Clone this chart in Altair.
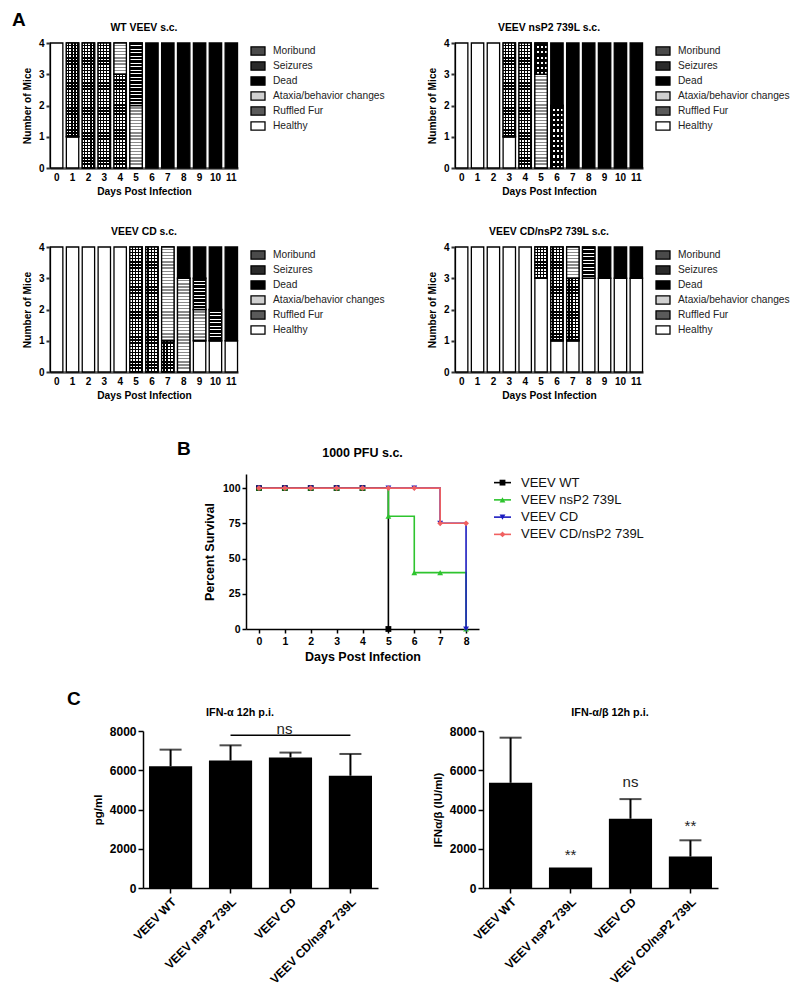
import altair as alt
import pandas as pd

FONT = "Liberation Sans"

# ---------------- Panel A data ----------------
days = [0, 1, 2, 3, 4, 5, 6, 7, 8, 9, 10, 11]
legend_order = ["Moribund", "Seizures", "Dead", "Ataxia/behavior changes", "Ruffled Fur", "Healthy"]
stack_order = ["Healthy", "Ruffled Fur", "Ataxia/behavior changes", "Seizures", "Moribund", "Dead"]
status_colors = ["#4a4a4a", "#2a2a2a", "#000000", "#d0d0d0", "#5a5a5a", "#ffffff"]

wt_healthy = [4, 1, 0, 0, 0, 0, 0, 0, 0, 0, 0, 0]
wt_ruffled = [0, 3, 4, 4, 3, 0, 0, 0, 0, 0, 0, 0]
wt_ataxia = [0, 0, 0, 0, 1, 2, 0, 0, 0, 0, 0, 0]
wt_seizures = [0, 0, 0, 0, 0, 0, 0, 0, 0, 0, 0, 0]
wt_moribund = [0, 0, 0, 0, 0, 2, 0, 0, 0, 0, 0, 0]
wt_dead = [0, 0, 0, 0, 0, 0, 4, 4, 4, 4, 4, 4]

ns_healthy = [4, 4, 4, 1, 0, 0, 0, 0, 0, 0, 0, 0]
ns_ruffled = [0, 0, 0, 3, 4, 0, 0, 0, 0, 0, 0, 0]
ns_ataxia = [0, 0, 0, 0, 0, 3, 0, 0, 0, 0, 0, 0]
ns_seizures = [0, 0, 0, 0, 0, 1, 2, 0, 0, 0, 0, 0]
ns_moribund = [0, 0, 0, 0, 0, 0, 0, 0, 0, 0, 0, 0]
ns_dead = [0, 0, 0, 0, 0, 0, 2, 4, 4, 4, 4, 4]

cd_healthy = [4, 4, 4, 4, 4, 0, 0, 0, 0, 1, 1, 1]
cd_ruffled = [0, 0, 0, 0, 0, 4, 4, 1, 0, 0, 0, 0]
cd_ataxia = [0, 0, 0, 0, 0, 0, 0, 3, 3, 1, 0, 0]
cd_seizures = [0, 0, 0, 0, 0, 0, 0, 0, 0, 0, 0, 0]
cd_moribund = [0, 0, 0, 0, 0, 0, 0, 0, 0, 1, 1, 0]
cd_dead = [0, 0, 0, 0, 0, 0, 0, 0, 1, 1, 2, 3]

cdns_healthy = [4, 4, 4, 4, 4, 3, 1, 1, 3, 3, 3, 3]
cdns_ruffled = [0, 0, 0, 0, 0, 1, 3, 2, 0, 0, 0, 0]
cdns_ataxia = [0, 0, 0, 0, 0, 0, 0, 1, 0, 0, 0, 0]
cdns_seizures = [0, 0, 0, 0, 0, 0, 0, 0, 0, 0, 0, 0]
cdns_moribund = [0, 0, 0, 0, 0, 0, 0, 0, 1, 0, 0, 0]
cdns_dead = [0, 0, 0, 0, 0, 0, 0, 0, 0, 1, 1, 1]

# ---------------- Panel B data ----------------
surv_days = [0, 1, 2, 3, 4, 5, 6, 7, 8]
surv_series = ["VEEV WT", "VEEV nsP2 739L", "VEEV CD", "VEEV CD/nsP2 739L"]
surv_colors = ["#000000", "#2ec42e", "#1c1cc0", "#f06060"]
surv_shapes = ["square", "triangle-up", "triangle-down", "diamond"]
surv_wt = [100, 100, 100, 100, 100, 0]
surv_ns = [100, 100, 100, 100, 100, 80, 40, 40, 0]
surv_cd = [100, 100, 100, 100, 100, 100, 100, 75, 0]
surv_cdns = [100, 100, 100, 100, 100, 100, 100, 75, 75]

# ---------------- Panel C data ----------------
groups = ["VEEV WT", "VEEV nsP2 739L", "VEEV CD", "VEEV CD/nsP2 739L"]
ifna_mean = [6200, 6500, 6650, 5720]
ifna_upper = [7050, 7270, 6900, 6830]
ifnab_mean = [5360, 1040, 3530, 1600]
ifnab_upper = [7660, 1040, 4530, 2430]
sig_a_groups = ["VEEV CD"]
sig_a_values = [8080]
sig_a_labels = ["ns"]
bracket_from = ["VEEV nsP2 739L"]
bracket_to = ["VEEV CD/nsP2 739L"]
bracket_value = [7780]
sig_b_groups = ["VEEV nsP2 739L", "VEEV CD", "VEEV CD/nsP2 739L"]
sig_b_values = [1700, 5400, 3150]
sig_b_labels = ["**", "ns", "**"]

panel_letters = ["A", "B", "C"]

IND = dict(color="independent", shape="independent")
CLEAR = "rgba(255,255,255,0)"


def label_text(txt, px, py, size, bold=True, align="left"):
    return alt.Chart(pd.DataFrame({"t": [txt]})).mark_text(
        align=align, baseline="alphabetic", fontSize=size,
        fontWeight="bold" if bold else "normal", color="black"
    ).encode(x=alt.value(px), y=alt.value(py), text="t:N")


def status_frame(h, r, a, s, m, d):
    series = {"Healthy": h, "Ruffled Fur": r, "Ataxia/behavior changes": a,
              "Seizures": s, "Moribund": m, "Dead": d}
    rows = []
    for cat, vals in series.items():
        for day, v in zip(days, vals):
            if v > 0:
                rows.append({"day": day, "status": cat, "mice": v,
                             "rank": stack_order.index(cat)})
    return pd.DataFrame(rows)


def bands(n, frac, on, off, vertical_lines=False):
    """Repeating two-colour gradient used as a fill texture."""
    stops = []
    for k in range(n):
        a, b, c = k / n, (k + frac) / n, (k + 1) / n
        stops += [alt.GradientStop(offset=a, color=on),
                  alt.GradientStop(offset=b, color=on),
                  alt.GradientStop(offset=b, color=off),
                  alt.GradientStop(offset=c, color=off)]
    if vertical_lines:
        return alt.LinearGradient(gradient="linear", stops=stops, x1=0, x2=1, y1=0, y2=0)
    return alt.LinearGradient(gradient="linear", stops=stops, x1=0, x2=0, y1=0, y2=1)


def texture(cat, n):
    if cat == "Ataxia/behavior changes":
        return [bands(10 * n, 0.55, "white", "#8a8a8a")]
    if cat == "Ruffled Fur":
        return ["black", bands(4, 0.55, "white", CLEAR, True), bands(10 * n, 0.55, CLEAR, "black")]
    if cat == "Seizures":
        return ["black", bands(3, 0.45, CLEAR, "white", True), bands(6 * n, 0.6, "black", CLEAR)]
    if cat == "Moribund":
        return ["black", bands(9 * n, 0.7, "black", "white")]
    return []


A_W, A_H = 188, 125
a_xscale = alt.Scale(domain=days, paddingInner=0.22, paddingOuter=0.03)
a_yscale = alt.Scale(domain=[0, 4])
a_xaxis = alt.Axis(title="Days Post Infection", labelAngle=0, ticks=False,
                   labelFontSize=10, labelFontWeight="bold", labelPadding=4,
                   titleFontSize=10.2, titleFontWeight="bold", titlePadding=4,
                   domainColor="#555", domainWidth=2.5)
a_yaxis = alt.Axis(title="Number of Mice", values=[0, 1, 2, 3, 4], format="d",
                   grid=False, tickSize=4, tickWidth=2, tickColor="#333",
                   labelFontSize=10, labelFontWeight="bold", labelPadding=2,
                   titleFontSize=10.2, titleFontWeight="bold", titlePadding=6,
                   domainColor="#555", domainWidth=2.5)


def panel_a(title, df, with_letter=False):
    bars = (
        alt.Chart(df)
        .mark_bar(stroke="black", strokeWidth=1.3)
        .encode(
            x=alt.X("day:O", scale=a_xscale, axis=a_xaxis),
            y=alt.Y("mice:Q", stack="zero", scale=a_yscale, axis=a_yaxis),
            color=alt.Color("status:N",
                            scale=alt.Scale(domain=legend_order, range=status_colors),
                            legend=alt.Legend(title=None, orient="right", offset=12,
                                              symbolType="M-1,-0.6H1V0.6H-1Z", symbolSize=196,
                                              symbolStrokeColor="black", symbolStrokeWidth=1.3,
                                              labelFontSize=10.2, labelColor="#222",
                                              labelOffset=7, rowPadding=0, padding=0)),
            order=alt.Order("rank:Q"),
        )
    )
    layers = [bars]
    stacked = alt.Chart(df).transform_stack(
        stack="mice", groupby=["day"], sort=[alt.SortField("rank", order="ascending")],
        as_=["y0", "y1"])
    for cat in ["Ruffled Fur", "Ataxia/behavior changes", "Seizures", "Moribund"]:
        for n in sorted(df.loc[df["status"] == cat, "mice"].unique()):
            n = int(n)
            fills = texture(cat, n)
            sub = stacked.transform_filter((alt.datum.status == cat) & (alt.datum.mice == n))
            for i, f in enumerate(fills):
                last = i == len(fills) - 1
                mk = sub.mark_bar(fill=f, stroke="black",
                                  strokeWidth=1.3 if last else 0,
                                  strokeOpacity=1 if last else 0)
                layers.append(mk.encode(
                    x=alt.X("day:O", scale=a_xscale, axis=a_xaxis),
                    y=alt.Y("y0:Q", scale=a_yscale, axis=a_yaxis),
                    y2="y1:Q"))
    layers.append(label_text(title, A_W / 2, -12, 10.4, align="center"))
    if with_letter:
        layers.append(label_text(panel_letters[0], -38, -17, 19))
    return alt.layer(*layers).properties(width=A_W, height=A_H)


tl = panel_a("WT VEEV s.c.", status_frame(wt_healthy, wt_ruffled, wt_ataxia, wt_seizures, wt_moribund, wt_dead), True)
tr = panel_a("VEEV nsP2 739L s.c.", status_frame(ns_healthy, ns_ruffled, ns_ataxia, ns_seizures, ns_moribund, ns_dead))
bl = panel_a("VEEV CD s.c.", status_frame(cd_healthy, cd_ruffled, cd_ataxia, cd_seizures, cd_moribund, cd_dead))
br = panel_a("VEEV CD/nsP2 739L s.c.", status_frame(cdns_healthy, cdns_ruffled, cdns_ataxia, cdns_seizures, cdns_moribund, cdns_dead))

row_a1 = alt.hconcat(tl, tr, spacing=42).resolve_scale(**IND)
row_a2 = alt.hconcat(bl, br, spacing=42).resolve_scale(**IND)
panel_A = alt.vconcat(row_a1, row_a2, spacing=30).resolve_scale(**IND)

# ---------------- Panel B ----------------
surv_rows = []
for name, vals in zip(surv_series, [surv_wt, surv_ns, surv_cd, surv_cdns]):
    for d, v in zip(surv_days, vals):
        surv_rows.append({"day": d, "pct": v, "group": name})
surv_df = pd.DataFrame(surv_rows)

xs = alt.Scale(domain=[-0.5, 8.5], nice=False, zero=False)
ys = alt.Scale(domain=[0, 110], nice=False)
cs = alt.Scale(domain=surv_series, range=surv_colors)
ss = alt.Scale(domain=surv_series, range=surv_shapes)
b_x = alt.X("day:Q", scale=xs,
            axis=alt.Axis(title="Days Post Infection", values=surv_days, grid=False,
                          labelOverlap=False, tickSize=4, tickWidth=1.5, tickColor="black",
                          domainColor="black", domainWidth=1.5,
                          labelFontSize=10.5, labelFontWeight="bold", labelPadding=3,
                          titleFontSize=12.5, titleFontWeight="bold", titlePadding=4))
b_y = alt.Y("pct:Q", scale=ys,
            axis=alt.Axis(title="Percent Survival", values=[0, 25, 50, 75, 100], grid=False,
                          labelOverlap=False, tickSize=4, tickWidth=1.5, tickColor="black",
                          domainColor="black", domainWidth=1.5,
                          labelFontSize=10.5, labelFontWeight="bold", labelPadding=2,
                          titleFontSize=12.5, titleFontWeight="bold", titlePadding=6))
B_W, B_H = 233, 155

b_layers = []
for name in surv_series:
    base = alt.Chart(surv_df).transform_filter(alt.datum.group == name)
    line = base.mark_line(interpolate="step-after", strokeWidth=1.6).encode(
        x=b_x, y=b_y, color=alt.Color("group:N", scale=cs, legend=None))
    pts = base.mark_point(filled=True, size=34, opacity=1).encode(
        x=b_x, y=b_y,
        color=alt.Color("group:N", scale=cs, legend=None),
        shape=alt.Shape("group:N", scale=ss, legend=None))
    b_layers += [line, pts]
b_layers.append(label_text("1000 PFU s.c.", B_W / 2, -17, 12.5, align="center"))
b_layers.append(label_text(panel_letters[1], -69, -19, 19))
b_plot = alt.layer(*b_layers).properties(width=B_W, height=B_H)

leg_df = pd.DataFrame({"group": surv_series})
leg_y = alt.Y("group:N", sort=surv_series, axis=None, scale=alt.Scale(domain=surv_series))
leg_line = alt.Chart(leg_df).mark_rule(strokeWidth=1.6).encode(
    x=alt.value(0), x2=alt.value(17), y=leg_y,
    color=alt.Color("group:N", scale=cs, legend=None))
leg_pt = alt.Chart(leg_df).mark_point(filled=True, size=34, opacity=1).encode(
    x=alt.value(8.5), y=leg_y,
    color=alt.Color("group:N", scale=cs, legend=None),
    shape=alt.Shape("group:N", scale=ss, legend=None))
leg_txt = alt.Chart(leg_df).mark_text(align="left", baseline="middle", fontSize=13, color="#111").encode(
    x=alt.value(27), y=leg_y, text="group:N")
b_legend = alt.layer(leg_line, leg_pt, leg_txt).properties(width=150, height=69)

spacer_b = alt.Chart(pd.DataFrame({"v": [0]})).mark_point(opacity=0).encode(
    x=alt.value(0), y=alt.value(0)).properties(width=113, height=1)
panel_B = alt.hconcat(spacer_b, b_plot, b_legend, spacing=14).resolve_scale(**IND)

# ---------------- Panel C ----------------
C_W, C_H = 235, 157


def bar_panel(title, title_x, ytitle, mean, upper, sig_groups, sig_values, sig_labels,
              bracket=False, with_letter=False):
    df = pd.DataFrame({"group": groups, "mean": mean, "upper": upper})
    xsc = alt.Scale(domain=groups, paddingInner=0.28, paddingOuter=0.1)
    xax = alt.Axis(title=None, labelAngle=-45, tickSize=5, tickWidth=1.5,
                   tickColor="black", domainColor="black", domainWidth=1.5,
                   labelFontSize=12, labelFontWeight="bold", labelPadding=3)
    ysc = alt.Scale(domain=[0, 8000], nice=False)
    yax = alt.Axis(title=ytitle, values=[0, 2000, 4000, 6000, 8000], format="d",
                   grid=False, labelOverlap=False,
                   tickSize=5, tickWidth=1.5, tickColor="black",
                   domainColor="black", domainWidth=1.5,
                   labelFontSize=12, labelFontWeight="bold", labelPadding=2,
                   titleFontSize=11.5, titleFontWeight="bold", titlePadding=6)

    def X(f):
        return alt.X(f, scale=xsc, axis=xax)

    def Y(f):
        return alt.Y(f, scale=ysc, axis=yax)

    bars = alt.Chart(df).mark_bar(color="black").encode(x=X("group:N"), y=Y("mean:Q"))
    err_df = df[df["upper"] > df["mean"]]
    err = alt.Chart(err_df).mark_rule(color="black", strokeWidth=2).encode(
        x=X("group:N"), y=Y("mean:Q"), y2="upper:Q")
    cap = alt.Chart(err_df).mark_tick(color="black", thickness=2, size=22).encode(
        x=X("group:N"), y=Y("upper:Q"))
    sig_df = pd.DataFrame({"group": sig_groups, "val": sig_values, "label": sig_labels})
    layers = [bars, err, cap]
    if bracket:
        br_df = pd.DataFrame({"group": bracket_from, "group2": bracket_to, "val": bracket_value})
        layers.append(alt.Chart(br_df).mark_rule(color="black", strokeWidth=1.5).encode(
            x=X("group:N"), x2="group2:N", y=Y("val:Q")))
        sig = alt.Chart(sig_df).mark_text(fontSize=15, color="#222", baseline="middle", dx=-6).encode(
            x=X("group:N"), y=Y("val:Q"), text="label:N")
    else:
        sig = alt.Chart(sig_df).mark_text(fontSize=15, color="#222", baseline="middle").encode(
            x=X("group:N"), y=Y("val:Q"), text="label:N")
    layers.append(sig)
    layers.append(label_text(title, title_x, -15, 10.8, align="center"))
    if with_letter:
        layers.append(label_text(panel_letters[2], -76, -26, 19))
    return alt.layer(*layers).properties(width=C_W, height=C_H)


c_left = bar_panel("IFN-\u03b1 12h p.i.", 97, "pg/ml", ifna_mean, ifna_upper,
                   sig_a_groups, sig_a_values, sig_a_labels, bracket=True, with_letter=True)
c_right = bar_panel("IFN-\u03b1/\u03b2 12h p.i.", 127, "IFN\u03b1/\u03b2 (IU/ml)", ifnab_mean, ifnab_upper,
                    sig_b_groups, sig_b_values, sig_b_labels)
spacer_c = alt.Chart(pd.DataFrame({"v": [0]})).mark_point(opacity=0).encode(
    x=alt.value(0), y=alt.value(0)).properties(width=5, height=1)
c_pair = alt.hconcat(c_left, c_right, spacing=54).resolve_scale(**IND)
panel_C = alt.hconcat(spacer_c, c_pair, spacing=12).resolve_scale(**IND)

panel_BC = alt.vconcat(panel_B, panel_C, spacing=27).resolve_scale(**IND)

chart = (
    alt.vconcat(panel_A, panel_BC, spacing=39)
    .resolve_scale(**IND)
    .properties(padding={"left": 4, "top": 3, "right": 0, "bottom": 0})
    .configure(font=FONT)
    .configure_view(stroke=None)
    .configure_axis(labelFont=FONT, titleFont=FONT, labelColor="black", titleColor="black")
    .configure_legend(labelFont=FONT)
)

chart.save("out.html", embed_options={"renderer": "svg", "actions": False})
